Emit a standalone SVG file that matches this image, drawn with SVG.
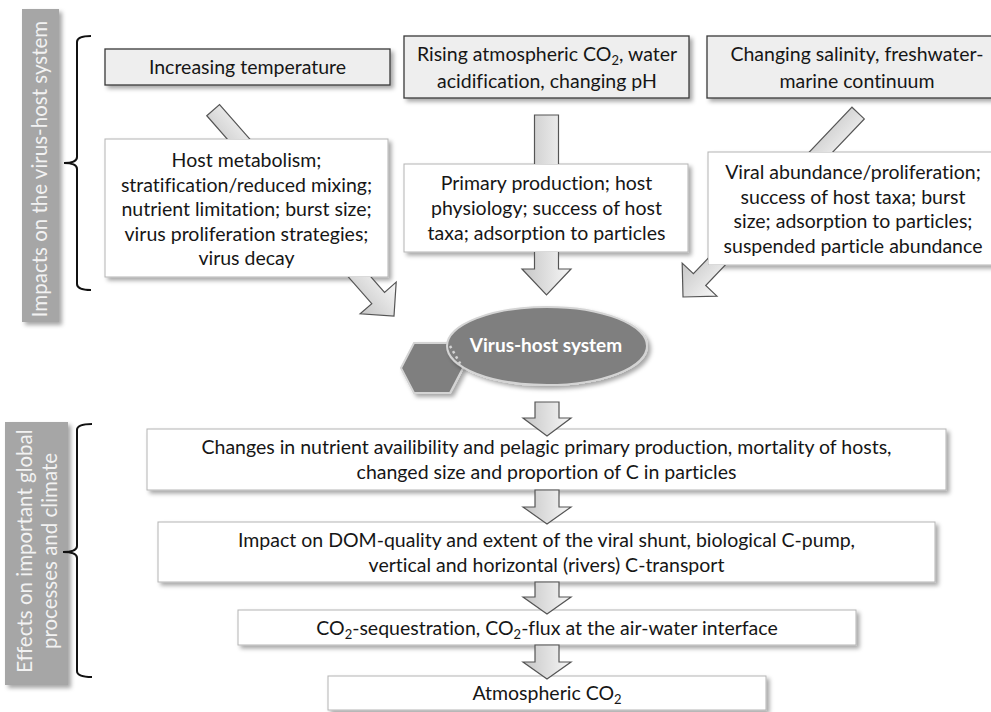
<svg xmlns="http://www.w3.org/2000/svg" width="991" height="712" viewBox="0 0 991 712">
<defs>
<filter id="sh" x="-10%" y="-10%" width="130%" height="140%"><feDropShadow dx="3" dy="3" stdDeviation="2" flood-color="#000" flood-opacity="0.35"/></filter>
<linearGradient id="ag" x1="0" y1="0" x2="1" y2="0"><stop offset="0" stop-color="#c6c6c6"/><stop offset="1" stop-color="#f7f7f7"/></linearGradient>
<clipPath id="cut"><path clip-rule="evenodd" d="M0,0H991V712H0Z M105,139H388V277H105Z M404,164H688V252H404Z M708,152H998V265H708Z"/></clipPath>
</defs>
<style>
text{font-variant-ligatures:none;font-feature-settings:"liga" 0,"clig" 0}
.t{font-family:Lato,'Liberation Sans',sans-serif;font-size:19.5px;fill:#161616;text-anchor:middle}
.gb{fill:#eeeeee;stroke:#3a3a3a;stroke-width:1.3}
.wb{fill:#ffffff;stroke:#b4b4b4;stroke-width:1}
.ar{fill:url(#ag);stroke:#555555;stroke-width:1.2}
.bar{fill:#a6a6a6}
.bt{font-family:Lato,'Liberation Sans',sans-serif;font-size:20.5px;fill:#f2f2f2;text-anchor:middle}
.br{fill:none;stroke:#111111;stroke-width:2}
.vh{fill:#7f7f7f;stroke:#d4d4d4;stroke-width:2}
</style>
<rect width="991" height="712" fill="#ffffff"/>

<g id="bar-impacts">
<rect class="bar" x="22" y="9" width="37" height="313" filter="url(#sh)"/>
<text class="bt" transform="translate(47,169) rotate(-90)">Impacts on the virus-host system</text>
</g>
<g id="brace-impacts">
<path class="br" d="M91,36 Q77,36 77,42 L77,157 Q77,163 64,163 Q77,163 77,169 L77,284 Q77,290 91,290"/>
</g>

<g id="temperature">
<rect class="gb" x="105" y="49" width="285" height="36" filter="url(#sh)"/>
<text class="t" x="247.5" y="74">Increasing temperature</text>
</g>
<g id="co2">
<rect class="gb" x="404" y="36" width="285" height="62" filter="url(#sh)"/>
<text class="t" x="547" y="61">Rising atmospheric CO<tspan font-size="13" dy="4">2</tspan><tspan dy="-4">, water</tspan></text>
<text class="t" x="547" y="88">acidification, changing pH</text>
</g>
<g id="salinity">
<rect class="gb" x="707" y="36" width="300" height="62" filter="url(#sh)"/>
<text class="t" x="857" y="61">Changing salinity, freshwater-</text>
<text class="t" x="857" y="88">marine continuum</text>
</g>

<g id="temperature-effects">
<rect class="wb" x="105" y="139" width="283" height="138" filter="url(#sh)"/>
<text class="t" x="246.5" y="167">Host metabolism;</text>
<text class="t" x="246.5" y="191.5">stratification/reduced mixing;</text>
<text class="t" x="246.5" y="216">nutrient limitation; burst size;</text>
<text class="t" x="246.5" y="240.5">virus proliferation strategies;</text>
<text class="t" x="246.5" y="265">virus decay</text>
</g>
<g id="co2-effects">
<rect class="wb" x="404" y="164" width="284" height="88" filter="url(#sh)"/>
<text class="t" x="546.5" y="190">Primary production; host</text>
<text class="t" x="546.5" y="215">physiology; success of host</text>
<text class="t" x="546.5" y="240">taxa; adsorption to particles</text>
</g>
<g id="salinity-effects">
<rect class="wb" x="708" y="152" width="290" height="113" filter="url(#sh)"/>
<text class="t" x="853" y="179">Viral abundance/proliferation;</text>
<text class="t" x="853" y="203.5">success of host taxa; burst</text>
<text class="t" x="853" y="228">size; adsorption to particles;</text>
<text class="t" x="853" y="252.5">suspended particle abundance</text>
</g>

<g id="virus-host-system">
<polygon class="vh" points="401,368 414,343 450,343 463,368 450,393 414,393" filter="url(#sh)"/>
<ellipse class="vh" cx="547" cy="346" rx="100" ry="39" filter="url(#sh)"/>
<line x1="450" y1="346" x2="461" y2="365" stroke="#d4d4d4" stroke-width="2.5" stroke-dasharray="2.5,3.5"/>
<text x="546" y="352" text-anchor="middle" font-family="Lato,'Liberation Sans',sans-serif" font-size="19" font-weight="bold" fill="#ffffff">Virus-host system</text>
</g>

<g id="bar-effects">
<rect class="bar" x="5" y="422" width="63" height="263" filter="url(#sh)"/>
<text class="bt" transform="translate(32,551) rotate(-90)"><tspan x="0" y="0">Effects on important global</tspan><tspan x="0" y="25">processes and climate</tspan></text>
</g>
<g id="brace-effects">
<path class="br" d="M92,424 Q77,424 77,430 L77,546 Q77,552 63,552 Q77,552 77,558 L77,671 Q77,677 92,677"/>
</g>

<g id="changes">
<rect class="wb" x="147" y="429" width="799" height="61" filter="url(#sh)"/>
<text class="t" x="546.5" y="454">Changes in nutrient availibility and pelagic primary production, mortality of hosts,</text>
<text class="t" x="546.5" y="479">changed size and proportion of C in particles</text>
</g>
<g id="dom-impact">
<rect class="wb" x="158" y="522" width="777" height="60" filter="url(#sh)"/>
<text class="t" x="546.5" y="546.5">Impact on DOM-quality and extent of the viral shunt, biological C-pump,</text>
<text class="t" x="546.5" y="571.5">vertical and horizontal (rivers) C-transport</text>
</g>
<g id="sequestration">
<rect class="wb" x="238" y="610" width="618" height="35" filter="url(#sh)"/>
<text class="t" x="547" y="634.5">CO<tspan font-size="13" dy="4">2</tspan><tspan dy="-4">-sequestration, CO</tspan><tspan font-size="13" dy="4">2</tspan><tspan dy="-4">-flux at the air-water interface</tspan></text>
</g>
<g id="atmospheric-co2">
<rect class="wb" x="328" y="676" width="438" height="34" filter="url(#sh)"/>
<text class="t" x="547" y="700">Atmospheric CO<tspan font-size="13" dy="4">2</tspan></text>
</g>

<g id="connectors">
<g clip-path="url(#cut)">
<path class="ar" transform="translate(394,316) rotate(-41.3)" d="M-8.5,-274 L8.5,-274 L8.5,-24 L24,-24 L0,0 L-24,-24 L-8.5,-24 Z"/>
<path class="ar" transform="translate(546.5,295)" d="M-12,-180 L12,-180 L12,-26 L24.5,-26 L0,0 L-24.5,-26 L-12,-26 Z"/>
<path class="ar" transform="translate(683,297) rotate(43.6)" d="M-8.5,-254 L8.5,-254 L8.5,-24 L24,-24 L0,0 L-24,-24 L-8.5,-24 Z"/>
</g>
<path class="ar" transform="translate(547,436)" d="M-12,-34 L12,-34 L12,-18 L24,-18 L0,0 L-24,-18 L-12,-18 Z"/>
<path class="ar" transform="translate(547,524)" d="M-12,-34 L12,-34 L12,-17 L24,-17 L0,0 L-24,-17 L-12,-17 Z"/>
<path class="ar" transform="translate(547,614)" d="M-12,-32 L12,-32 L12,-17 L24,-17 L0,0 L-24,-17 L-12,-17 Z"/>
<path class="ar" transform="translate(547,679)" d="M-12,-34 L12,-34 L12,-17 L24,-17 L0,0 L-24,-17 L-12,-17 Z"/>
</g>
</svg>
